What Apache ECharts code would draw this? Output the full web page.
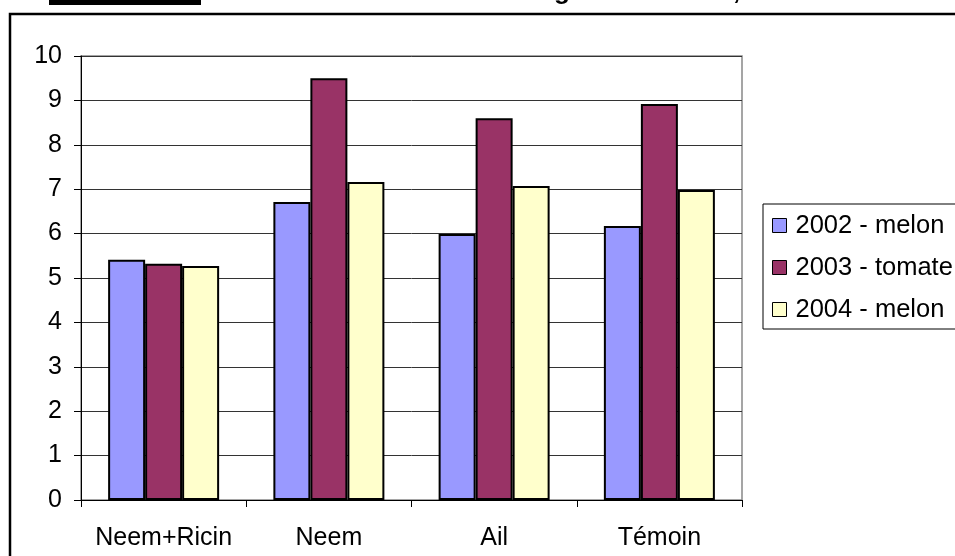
<!DOCTYPE html>
<html>
<head>
<meta charset="utf-8">
<script src="https://cdn.jsdelivr.net/npm/echarts@6/dist/echarts.min.js"></script>
<style>
html,body{margin:0;padding:0;background:#fff;}
#c{width:955px;height:556px;}
</style>
</head>
<body>
<div id="c"></div>
<script>
var categories = ['Neem+Ricin', 'Neem', 'Ail', 'Témoin'];
var seriesNames = ['2002 - melon', '2003 - tomate', '2004 - melon'];
var melon2002 = [5.41, 6.71, 5.99, 6.17];
var tomate2003 = [5.32, 9.50, 8.60, 8.92];
var melon2004 = [5.27, 7.16, 7.07, 6.98];
var yTicks = [0, 1, 2, 3, 4, 5, 6, 7, 8, 9, 10];
var colors = ['#9999FF', '#993366', '#FFFFCC'];

var FONT = 'Liberation Sans, Arial, sans-serif';
var chart = echarts.init(document.getElementById('c'), null, {renderer: 'canvas'});

function barSeries(name, data, color) {
  return {
    name: name,
    type: 'bar',
    data: data,
    barWidth: 37,
    barGap: '0%',
    itemStyle: {color: color, borderColor: '#000', borderWidth: 2},
    emphasis: {disabled: true},
    animation: false
  };
}

chart.setOption({
  animation: false,
  textStyle: {fontFamily: FONT},
  grid: {
    left: 81, right: 213, top: 56, bottom: 56,
    show: true, borderColor: '#888', borderWidth: 1.5, backgroundColor: '#fff',
    containLabel: false
  },
  legend: {
    orient: 'vertical',
    left: 767, top: 207,
    itemWidth: 14, itemHeight: 14,
    itemGap: 15,
    icon: 'rect',
    selectedMode: false,
    data: seriesNames,
    itemStyle: {borderColor: '#000', borderWidth: 1},
    textStyle: {fontFamily: FONT, fontSize: 25.5, color: '#000', lineHeight: 27, padding: [0, 0, 0, 4]}
  },
  xAxis: {
    type: 'category',
    data: categories,
    axisLine: {lineStyle: {color: '#000', width: 1}},
    axisTick: {show: true, length: 7, lineStyle: {color: '#000'}},
    axisLabel: {interval: 0, fontFamily: FONT, fontSize: 25, color: '#000', margin: 26},
    splitLine: {show: false}
  },
  yAxis: {
    type: 'value',
    min: yTicks[0], max: yTicks[yTicks.length - 1], interval: 1,
    axisLine: {show: true, lineStyle: {color: '#000', width: 1}},
    axisTick: {show: true, length: 7, lineStyle: {color: '#000'}},
    axisLabel: {fontFamily: FONT, fontSize: 25, color: '#000', margin: 19},
    splitLine: {show: true, lineStyle: {color: '#333', width: 1}}
  },
  series: [
    barSeries(seriesNames[0], melon2002, colors[0]),
    barSeries(seriesNames[1], tomate2003, colors[1]),
    barSeries(seriesNames[2], melon2004, colors[2])
  ],
  graphic: [
    {type: 'rect', z: -10, silent: true,
     shape: {x: 10, y: 14, width: 1000, height: 600},
     style: {fill: '#fff', stroke: '#000', lineWidth: 2.5}},
    {type: 'rect', z: 100, silent: true,
     shape: {x: 763, y: 204, width: 300, height: 125},
     style: {fill: 'none', stroke: '#000', lineWidth: 1}},
    {type: 'rect', silent: true,
     shape: {x: 49, y: 0, width: 152, height: 5},
     style: {fill: '#000'}},
    {type: 'text', silent: true, x: 554, y: -21,
     style: {text: 'g', font: 'bold 26px ' + FONT, fill: '#000'}},
    {type: 'text', silent: true, x: 733, y: -21,
     style: {text: ',', font: 'bold 26px ' + FONT, fill: '#000'}}
  ]
});
</script>
</body>
</html>
